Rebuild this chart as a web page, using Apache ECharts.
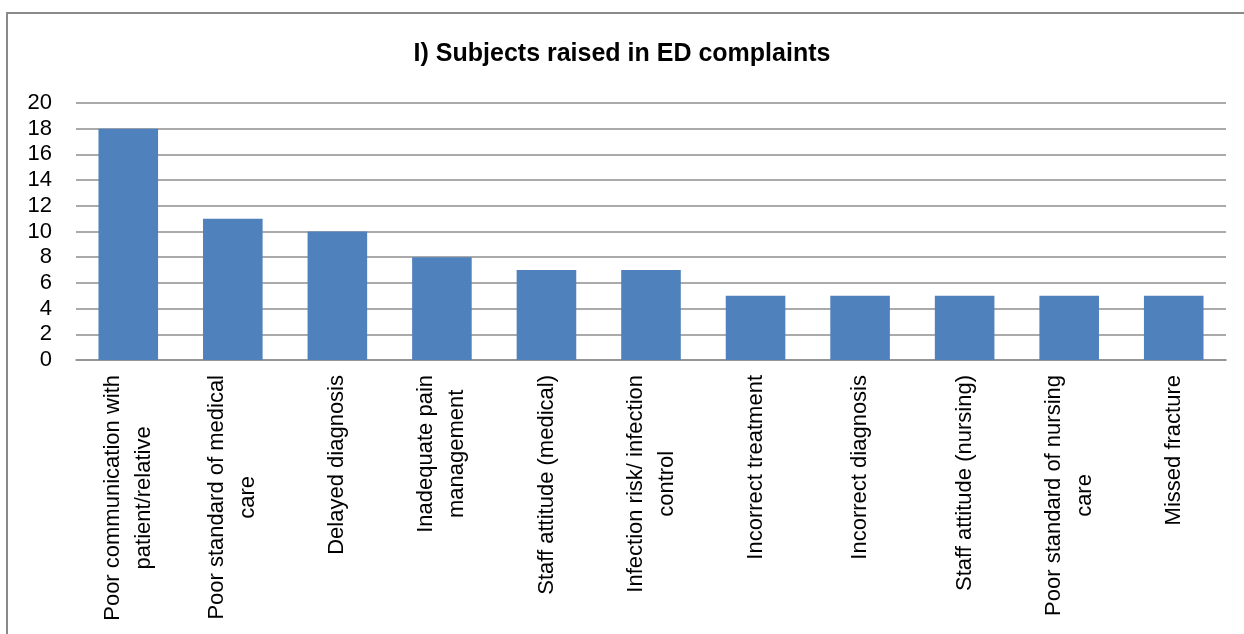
<!DOCTYPE html>
<html>
<head>
<meta charset="utf-8">
<script src="https://cdn.jsdelivr.net/npm/echarts@6/dist/echarts.min.js"></script>
<style>
  html, body { margin: 0; padding: 0; background: #fff; }
  #chart { width: 1244px; height: 634px; }
</style>
</head>
<body>
<div id="chart"></div>
<script>
// Complaint subjects and how often each was raised
const categories = [
  'Poor communication with\npatient/relative',
  'Poor standard of medical\ncare',
  'Delayed diagnosis',
  'Inadequate pain\nmanagement',
  'Staff attitude (medical)',
  'Infection risk/ infection\ncontrol',
  'Incorrect treatment',
  'Incorrect diagnosis',
  'Staff attitude (nursing)',
  'Poor standard of nursing\ncare',
  'Missed fracture'
];
const counts = [18, 11, 10, 8, 7, 7, 5, 5, 5, 5, 5];
const yTicks = { min: 0, max: 20, interval: 2 };

const FONT = '"Liberation Sans", Arial, sans-serif';
const GRID_COLOR = '#8e8e8e';

const chart = echarts.init(document.getElementById('chart'), null, { renderer: 'canvas' });

chart.setOption({
  animation: false,
  backgroundColor: '#fff',
  title: {
    text: 'I) Subjects raised in ED complaints',
    left: 'center',
    top: 37,
    textStyle: { fontFamily: FONT, fontSize: 25, fontWeight: 'bold', color: '#000' }
  },
  graphic: [{
    type: 'rect',
    shape: { x: 7, y: 13, width: 1400, height: 800 },
    style: { fill: 'none', stroke: '#8a8a8a', lineWidth: 2 },
    silent: true,
    z: -1
  }],
  grid: { left: 76, right: 18, top: 103, bottom: 274, containLabel: false },
  xAxis: {
    type: 'category',
    data: categories,
    axisTick: { show: false },
    axisLine: { show: true, lineStyle: { color: GRID_COLOR, width: 1.6 } },
    axisLabel: {
      rotate: 90,
      interval: 0,
      margin: 15,
      color: '#000',
      fontFamily: FONT,
      fontSize: 22,
      lineHeight: 31,
      formatter: (v) => v.split('\n').map(s => '{c|' + s + '}').join('\n'),
      rich: {
        c: { align: 'center', fontFamily: FONT, fontSize: 22, lineHeight: 31, color: '#000' }
      }
    }
  },
  yAxis: {
    type: 'value',
    min: yTicks.min,
    max: yTicks.max,
    interval: yTicks.interval,
    axisLine: { show: false },
    axisTick: { show: false },
    axisLabel: { color: '#000', fontFamily: FONT, fontSize: 22, margin: 24 },
    splitLine: { lineStyle: { color: GRID_COLOR, width: 1.6 } }
  },
  series: [{
    type: 'bar',
    data: counts,
    barCategoryGap: '43%',
    itemStyle: { color: '#4F81BD' }
  }]
});
</script>
</body>
</html>
